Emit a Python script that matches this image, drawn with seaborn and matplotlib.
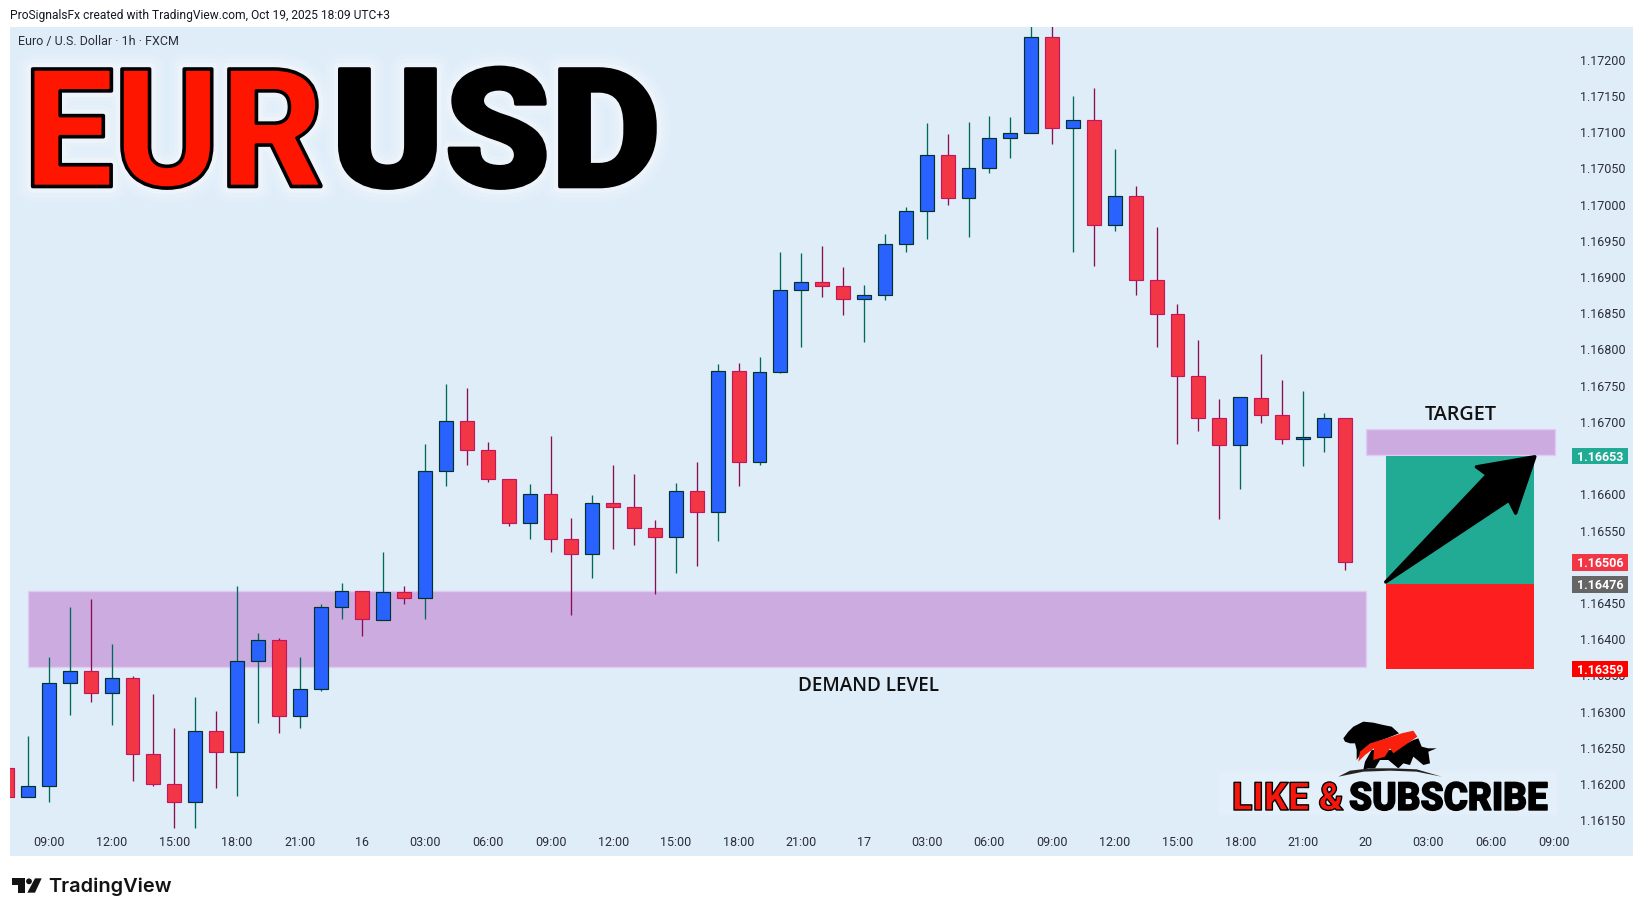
import numpy as np
import pandas as pd
import seaborn as sns
import matplotlib
matplotlib.use("Agg")
import matplotlib.pyplot as plt
import matplotlib.patheffects as pe
from matplotlib.patches import Polygon, Rectangle, Circle, FancyBboxPatch
from matplotlib.transforms import Affine2D, ScaledTranslation, blended_transform_factory

# ---------- data ----------
opens = [1.16222,1.16182,1.16197,1.16340,1.16356,1.16326,1.16347,1.16242,1.16200,1.16175,
         1.16273,1.16244,1.16370,1.16399,1.16294,1.16331,1.16445,1.16467,1.16427,1.16465,
         1.16457,1.16632,1.16701,1.16661,1.16621,1.16560,1.16601,1.16538,1.16518,1.16588,
         1.16583,1.16554,1.16541,1.16605,1.16576,1.16770,1.16645,1.16769,1.16882,1.16893,
         1.16888,1.16870,1.16875,1.16946,1.16991,1.17068,1.17009,1.17051,1.17092,1.17099,
         1.17231,1.17106,1.17117,1.16972,1.17012,1.16896,1.16849,1.16763,1.16705,1.16668,
         1.16733,1.16710,1.16676,1.16679,1.16705]
closes = [1.16182,1.16197,1.16340,1.16356,1.16326,1.16347,1.16242,1.16200,1.16175,1.16273,
          1.16244,1.16370,1.16399,1.16294,1.16331,1.16445,1.16467,1.16428,1.16465,1.16457,
          1.16632,1.16701,1.16661,1.16621,1.16560,1.16601,1.16538,1.16518,1.16588,1.16583,
          1.16554,1.16541,1.16605,1.16576,1.16770,1.16645,1.16769,1.16882,1.16893,1.16888,
          1.16870,1.16875,1.16946,1.16991,1.17068,1.17009,1.17051,1.17092,1.17099,1.17231,
          1.17106,1.17117,1.16972,1.17012,1.16896,1.16849,1.16763,1.16705,1.16668,1.16734,
          1.16710,1.16676,1.16679,1.16705,1.16507]
highs = [1.16222,1.16267,1.16376,1.16445,1.16456,1.16394,1.16349,1.16324,1.16277,1.16321,
         1.16301,1.16474,1.16409,1.16402,1.16375,1.16449,1.16478,1.16467,1.16520,1.16473,
         1.16670,1.16753,1.16747,1.16672,1.16621,1.16614,1.16681,1.16567,1.16599,1.16641,
         1.16628,1.16565,1.16616,1.16645,1.16780,1.16781,1.16790,1.16935,1.16933,1.16943,
         1.16914,1.16889,1.16960,1.16997,1.17113,1.17097,1.17114,1.17122,1.17121,1.17255,
         1.17255,1.17150,1.17161,1.17077,1.17026,1.16969,1.16863,1.16813,1.16732,1.16734,
         1.16794,1.16758,1.16743,1.16712,1.16705]
lows = [1.16182,1.16182,1.16176,1.16295,1.16314,1.16281,1.16205,1.16197,1.16140,1.16140,
        1.16195,1.16184,1.16285,1.16271,1.16278,1.16329,1.16428,1.16405,1.16427,1.16448,
        1.16428,1.16612,1.16641,1.16617,1.16557,1.16539,1.16521,1.16433,1.16485,1.16524,
        1.16530,1.16463,1.16491,1.16501,1.16536,1.16612,1.16641,1.16767,1.16804,1.16873,
        1.16848,1.16810,1.16868,1.16934,1.16952,1.17000,1.16955,1.17044,1.17064,1.17099,
        1.17084,1.16934,1.16915,1.16964,1.16875,1.16804,1.16670,1.16688,1.16566,1.16607,
        1.16699,1.16670,1.16639,1.16659,1.16496]

x_tick_idx = [2,5,8,11,14,17,20,23,26,29,32,35,38,41,44,47,50,53,56,59,62,65,68,71,74]
x_tick_labels = ["09:00","12:00","15:00","18:00","21:00","16","03:00","06:00","09:00","12:00",
                 "15:00","18:00","21:00","17","03:00","06:00","09:00","12:00","15:00","18:00",
                 "21:00","20","03:00","06:00","09:00"]
y_ticks = [1.1615,1.1620,1.1625,1.1630,1.1635,1.1640,1.1645,1.1655,1.1660,
           1.1670,1.1675,1.1680,1.1685,1.1690,1.1695,1.1700,1.1705,1.1710,1.1715,1.1720]

demand_zone = (1.16362, 1.16467)
target_zone = (1.16654, 1.16690)
position_levels = (1.16359, 1.16476, 1.16653)
arrow_i = [65.96,70.82,70.30,73.10,72.18,71.86]
arrow_p = [1.16479,1.16627,1.16638,1.16652,1.16574,1.16592]
badges = [("1.16653","#22ab94"),("1.16506","#f23645"),("1.16476","#666666"),("1.16359","#ff0000")]

BG = "#dfedf9"; TXT = "#2a2e39"
W, H = 1643, 916
LEFT, RIGHT, TOP, BOTTOM = 10, 1633, 27, 856
X0, DX = 7.1, 20.9
Y_PX_1615, PX_PER = 820.4, 72450.0

sns.set_theme(style="white")
plt.rcParams["font.family"] = ["Roboto", "DejaVu Sans"]

fig = plt.figure(figsize=(W/100, H/100), dpi=100, facecolor="white")
ax = fig.add_axes([LEFT/W, 1-BOTTOM/H, (RIGHT-LEFT)/W, (BOTTOM-TOP)/H], facecolor=BG)

# ---------- candles ----------
idx = np.arange(len(opens))
o, c, h, l = map(np.array, (opens, closes, highs, lows))
up = c >= o
wicks = pd.DataFrame({"candle": np.repeat(idx, 2),
                      "price": np.column_stack([l, h]).ravel(),
                      "dir": np.repeat(np.where(up, "up", "down"), 2)})
sns.lineplot(data=wicks, x="candle", y="price", hue="dir", units="candle", estimator=None,
             sort=False, palette={"up": "#00695c", "down": "#880e4f"}, linewidth=0.95,
             legend=False, ax=ax, zorder=2, solid_capstyle="butt")
ax.bar(idx, np.abs(c-o), bottom=np.minimum(o, c), width=0.665,
       color=np.where(up, "#2962ff", "#f23645"), edgecolor=np.where(up, "#00332a", "#c2185b"),
       linewidth=0.85, zorder=3)

ax.set_xlim((LEFT-X0)/DX, (RIGHT-X0)/DX)
ax.set_ylim(1.1615-(BOTTOM-Y_PX_1615)/PX_PER, 1.1615+(Y_PX_1615-TOP)/PX_PER)
ax.set_xlabel(""); ax.set_ylabel("")
ax.set_xticks(x_tick_idx, x_tick_labels)
ax.set_yticks(y_ticks, [f"{v:.5f}" for v in y_ticks])
ax.yaxis.tick_right()
ax.tick_params(axis="y", length=0, pad=-38, labelsize=9, labelcolor=TXT)
ax.tick_params(axis="x", length=0, pad=-14.5, labelsize=9, labelcolor=TXT)
ax.grid(False)
for s in ax.spines.values():
    s.set_visible(False)

# ---------- zones and position ----------
PURPLE, PEDGE = "#ccabe0", "#e2caf2"
ax.add_patch(Rectangle((1, demand_zone[0]), 64, demand_zone[1]-demand_zone[0], fc=PURPLE, ec=PEDGE, lw=1, zorder=1))
ax.add_patch(Rectangle((65, target_zone[0]), 9.05, target_zone[1]-target_zone[0], fc=PURPLE, ec=PEDGE, lw=1, zorder=1))
ax.add_patch(Rectangle((66, position_levels[1]), 7.08, position_levels[2]-position_levels[1], fc="#22ab94", ec="none", zorder=1.5))
ax.add_patch(Rectangle((66, position_levels[0]), 7.08, position_levels[1]-position_levels[0], fc="#fd1f20", ec="none", zorder=1.5))
ax.add_patch(Polygon(np.column_stack([arrow_i, arrow_p]), closed=True, fc="black", ec="black", lw=2.4, joinstyle="round", zorder=4))
ax.text(69.55, 1.16710, "TARGET", ha="center", va="center", fontsize=14.2, fontweight=600, color="#111111", family=["Open Sans","DejaVu Sans"])
ax.text(41.2, 1.16336, "DEMAND LEVEL", ha="center", va="center", fontsize=13.6, fontweight=600, color="#111111", family=["Open Sans","DejaVu Sans"])

# ---------- price badges ----------
blend = blended_transform_factory(ax.transAxes, ax.transData)
bx0, bw = (1572-LEFT)/(RIGHT-LEFT), 56/(RIGHT-LEFT)
bh = 16.7/PX_PER
for label, col in badges:
    v = float(label)
    ax.add_patch(Rectangle((bx0, v-bh/2), bw, bh, transform=blend, fc=col, ec="none", zorder=5, clip_on=False))
    ax.text(bx0+bw/2, v, label, transform=blend, ha="center", va="center_baseline", fontsize=9, fontweight="bold", color="white", zorder=6)

# ---------- overlay: captions, title, logos (pixel space) ----------
ov = fig.add_axes([0, 0, 1, 1], facecolor="none", zorder=10)
ov.set_xlim(0, W); ov.set_ylim(H, 0); ov.axis("off")

class Squeezed(pe.AbstractPathEffect):
    """Draw text glyphs narrowed horizontally about x0 (display px)."""
    def __init__(self, sx, x0, fg, lw=0.0, alpha=1.0, fill=True):
        super().__init__()
        self.sx, self.x0, self.fg, self.lw, self.alpha, self.fill = sx, x0, fg, lw, alpha, fill
    def draw_path(self, renderer, gc, tpath, affine, rgbFace=None):
        g = renderer.new_gc(); g.copy_properties(gc)
        g.set_foreground(self.fg); g.set_linewidth(self.lw); g.set_alpha(self.alpha)
        g.set_joinstyle("round")
        a = affine + Affine2D().translate(-self.x0, 0).scale(self.sx, 1).translate(self.x0, 0)
        renderer.draw_path(g, tpath, a, rgbFace if self.fill else None)
        g.restore()

def big(x, base, s, size, sx, face, stroke, glow=True, family="Roboto", weight="black"):
    effects = []
    if glow:
        for lw, al in ((22, .10), (15, .16), (9, .25)):
            effects.append(Squeezed(sx, x, "white", lw, al, False))
    effects.append(Squeezed(sx, x, "black", stroke, 1.0, True))
    ov.text(x, base, s, fontsize=size, fontweight=weight, color=face, family=[family, "DejaVu Sans"],
            ha="left", va="baseline", path_effects=effects)

big(24, 186.5, "EUR", 119, 0.97, "#ff1600", 2.6)
big(331, 186.5, "USD", 119, 1.03, "black", 2.6)

ov.text(10, 15, "ProSignalsFx created with TradingView.com, Oct 19, 2025 18:09 UTC+3",
        fontsize=8.65, color="#131722", va="center", ha="left")
ov.text(18, 42, "Euro / U.S. Dollar \u00b7 1h \u00b7 FXCM", fontsize=9, color="#2a2e39", va="center", ha="left")

# Like & Subscribe
for pad, al in ((4, .10), (2, .14), (0, .18)):
    ov.add_patch(FancyBboxPatch((1219-pad, 772-pad), 338+2*pad, 42+2*pad, boxstyle="round,pad=0,rounding_size=3",
                                fc="#eef5fc", ec="none", alpha=al))
big(1232, 810, "LIKE &", 28, 0.97, "#f8160c", 1.0, glow=False)
big(1349, 810, "SUBSCRIBE", 28, 0.95, "black", 1.0, glow=False)

def logo_pts(pts, ox=1180, oy=700):
    return [(ox+a/3, oy+b/3) for a, b in pts]
bear = [(490,115),(505,95),(520,80),(550,65),(580,68),(610,75),(635,80),(657,100),(620,115),(580,130),
        (555,145),(540,165),(530,180),(530,150),(525,130),(510,130),(495,125)]
bull = [(555,185),(575,150),(640,150),(700,120),(715,115),(725,140),(745,145),(770,145),(745,155),
        (750,190),(730,195),(700,170),(690,195),(670,190),(655,205),(625,180),(600,180),(585,205),(565,205),(550,210)]
swoosh = [(535,185),(540,155),(570,130),(620,115),(665,100),(700,92),(712,110),(690,125),(640,160),
          (630,145),(615,170),(580,180),(582,145),(555,165)]
arc = [(475,230),(510,212),(570,205),(640,205),(710,208),(785,230),(710,215),(630,212),(550,215)]
for pts, col in ((bear, "black"), (bull, "black"), (swoosh, "#f8200c"), (arc, "#222222")):
    ov.add_patch(Polygon(logo_pts(pts), closed=True, fc=col, ec="none"))

# TradingView logotype
tv1 = [(36,955),(75,955),(75,998),(55,998),(55,975),(36,975)]
tv2 = [(105,955),(125,955),(105,998),(82,998)]
for pts in (tv1, tv2):
    ov.add_patch(Polygon(logo_pts(pts, 0, 560), closed=True, fc="#131313", ec="none"))
ov.add_patch(Circle((87/3, 560+964/3), 2.9, fc="#131313", ec="none"))
ov.text(48.5, 892.5, "TradingView", fontsize=14.4, fontweight=600, color="#131313", va="baseline", ha="left",
        family=["Inter","Roboto","DejaVu Sans"])

fig.savefig("out.png", dpi=100, facecolor="white")
